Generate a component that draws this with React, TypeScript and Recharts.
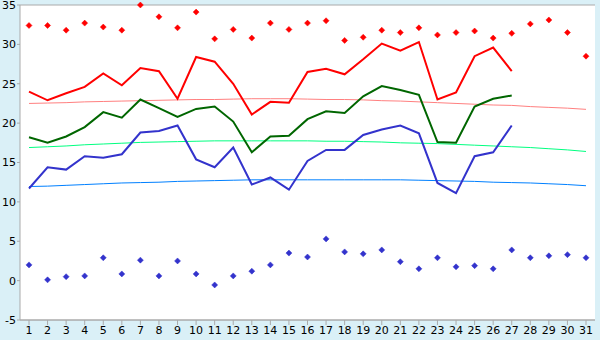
import { CartesianGrid, ComposedChart, Line, XAxis, YAxis } from "recharts";

const days = Array.from({ length: 31 }, (_, i) => String(i + 1));

const recordMax = [32.4, 32.4, 31.8, 32.7, 32.2, 31.8, 35.0, 33.5, 32.1, 34.1, 30.7, 31.9, 30.8, 32.7, 31.9, 32.7, 33.0, 30.5, 30.9, 31.8, 31.5, 32.1, 31.2, 31.5, 31.7, 30.8, 31.4, 32.6, 33.1, 31.5, 28.5];
const recordMin = [2.0, 0.1, 0.5, 0.6, 2.9, 0.85, 2.6, 0.6, 2.5, 0.85, -0.55, 0.6, 1.2, 2.0, 3.5, 3.0, 5.3, 3.65, 3.4, 3.9, 2.4, 1.5, 2.9, 1.75, 1.9, 1.5, 3.9, 2.9, 3.15, 3.3, 2.9];
const maxTemp = [24.0, 22.9, 23.8, 24.6, 26.3, 24.8, 27.0, 26.6, 23.1, 28.4, 27.8, 25.0, 21.1, 22.7, 22.6, 26.5, 26.9, 26.2, 28.1, 30.1, 29.2, 30.3, 23.0, 23.9, 28.5, 29.6, 26.6];
const meanTemp = [18.2, 17.5, 18.3, 19.5, 21.4, 20.7, 23.0, 21.9, 20.8, 21.8, 22.1, 20.2, 16.3, 18.3, 18.4, 20.5, 21.5, 21.3, 23.4, 24.7, 24.2, 23.6, 17.6, 17.5, 22.1, 23.1, 23.5];
const minTemp = [11.7, 14.4, 14.1, 15.8, 15.6, 16.05, 18.8, 19.0, 19.7, 15.4, 14.4, 16.9, 12.2, 13.1, 11.55, 15.2, 16.6, 16.6, 18.5, 19.2, 19.7, 18.7, 12.4, 11.1, 15.8, 16.3, 19.7];
const normalMax = [22.5, 22.55, 22.6, 22.7, 22.75, 22.8, 22.85, 22.9, 22.95, 23.0, 23.0, 23.05, 23.1, 23.1, 23.1, 23.05, 23.0, 23.0, 22.95, 22.85, 22.8, 22.7, 22.6, 22.5, 22.4, 22.3, 22.25, 22.1, 22.0, 21.9, 21.75];
const normalMean = [16.9, 17.0, 17.1, 17.25, 17.35, 17.45, 17.55, 17.6, 17.65, 17.7, 17.75, 17.75, 17.75, 17.75, 17.75, 17.75, 17.7, 17.7, 17.65, 17.6, 17.5, 17.45, 17.4, 17.3, 17.2, 17.1, 17.0, 16.9, 16.75, 16.6, 16.4];
const normalMin = [11.95, 12.0, 12.1, 12.2, 12.3, 12.4, 12.45, 12.5, 12.6, 12.65, 12.7, 12.75, 12.8, 12.8, 12.8, 12.8, 12.8, 12.8, 12.8, 12.8, 12.8, 12.75, 12.7, 12.65, 12.6, 12.5, 12.45, 12.4, 12.3, 12.2, 12.05];
const yTicks = [-5, 0, 5, 10, 15, 20, 25, 30, 35];

const data = days.map((day, i) => ({
  day,
  recordMax: recordMax[i],
  recordMin: recordMin[i],
  max: maxTemp[i] ?? null,
  mean: meanTemp[i] ?? null,
  min: minTemp[i] ?? null,
  normalMax: normalMax[i],
  normalMean: normalMean[i],
  normalMin: normalMin[i],
}));

const diamond = (color: string) => (props: any) => {
  const { cx, cy, index } = props;
  if (cx == null || cy == null) return <g key={index} />;
  return <path key={index} d={`M${cx},${cy - 3}L${cx + 3},${cy}L${cx},${cy + 3}L${cx - 3},${cy}Z`} fill={color} stroke={color} strokeWidth={0.5} />;
};

const tickStyle = { fontFamily: "DejaVu Sans", fontSize: 11, fill: "#000" };

export default function App() {
  return (
    <div style={{ position: "absolute", left: 0, top: 0, width: 600, height: 340, background: "#daf0f7" }}>
      <ComposedChart width={600} height={340} data={data} margin={{ top: 5, right: 5, bottom: 0, left: 0 }}>
        <CartesianGrid vertical={false} stroke="#aaaaaa" fill="#ffffff" fillOpacity={1} />
        <XAxis dataKey="day" padding={{ left: 9, right: 9 }} stroke="#aaaaaa" tickSize={5} tick={tickStyle} interval={0} height={20} tickMargin={1} />
        <YAxis yAxisId="left" domain={[-5, 35]} ticks={yTicks} stroke="#aaaaaa" tickSize={3} tick={tickStyle} width={20} interval={0} tickMargin={1} />
        <YAxis yAxisId="right" orientation="right" domain={[-5, 35]} ticks={yTicks} stroke="#aaaaaa" tick={false} tickLine={false} width={0} />
        <Line yAxisId="left" dataKey="normalMax" stroke="#ff8080" strokeWidth={1} dot={false} type="linear" isAnimationActive={false} />
        <Line yAxisId="left" dataKey="normalMean" stroke="#00ff80" strokeWidth={1} dot={false} type="linear" isAnimationActive={false} />
        <Line yAxisId="left" dataKey="normalMin" stroke="#0080ff" strokeWidth={1} dot={false} type="linear" isAnimationActive={false} />
        <Line yAxisId="left" dataKey="max" stroke="#ff0000" strokeWidth={2} dot={false} type="linear" isAnimationActive={false} />
        <Line yAxisId="left" dataKey="mean" stroke="#006600" strokeWidth={2} dot={false} type="linear" isAnimationActive={false} />
        <Line yAxisId="left" dataKey="min" stroke="#3333cc" strokeWidth={2} dot={false} type="linear" isAnimationActive={false} />
        <Line yAxisId="left" dataKey="recordMax" stroke="none" dot={diamond("#ff0000")} activeDot={false} isAnimationActive={false} />
        <Line yAxisId="left" dataKey="recordMin" stroke="none" dot={diamond("#3333cc")} activeDot={false} isAnimationActive={false} />
      </ComposedChart>
    </div>
  );
}
